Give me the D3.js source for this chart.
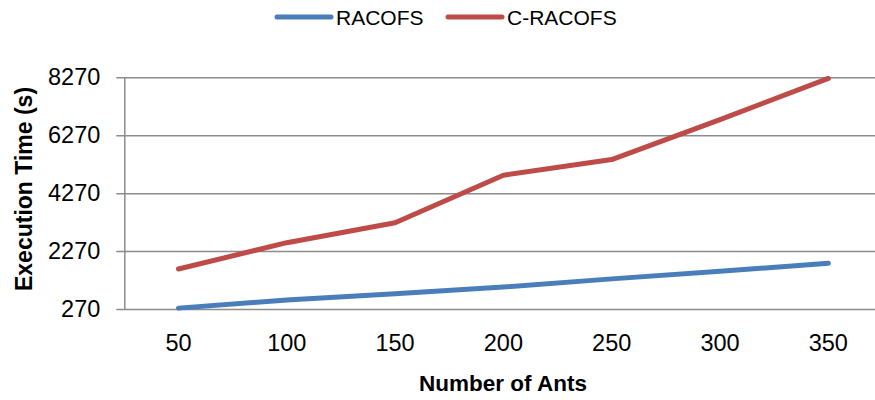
<!DOCTYPE html>
<html><head><meta charset="utf-8">
<script src="https://cdn.jsdelivr.net/npm/d3@7"></script>
<style>body{margin:0;background:#fff}svg{display:block}</style>
</head><body>
<svg id="c" width="875" height="400"></svg>
<script>
const categories = ["50","100","150","200","250","300","350"];
const racofs  = [300, 580, 800, 1030, 1310, 1570, 1850];
const cracofs = [1650, 2560, 3250, 4890, 5430, 6810, 8230];
const yTicks = [270, 2270, 4270, 6270, 8270];
const seriesNames = ["RACOFS", "C-RACOFS"];
const colors = ["#4A7EBB", "#BE4B48"];

(function () {
const svg = d3.select("#c");
const pLeft = 124.3, pRight = 882.5, pTop = 77.3, pBottom = 309;
const x = d3.scaleBand().domain(categories).range([pLeft, pRight]);
const y = d3.scaleLinear().domain([270, 8270]).range([pBottom, pTop]);
const font = "'Liberation Sans', Arial, sans-serif";

// gridlines + y axis
const ya = svg.append("g").attr("transform", `translate(${pLeft},0)`)
  .call(d3.axisLeft(y).tickValues(yTicks).tickFormat(d3.format("d")).tickSize(-(875 - pLeft)).tickSizeOuter(0).tickPadding(24));
ya.select(".domain").attr("stroke", "#8c8c8c").attr("stroke-width", 1.5);
ya.selectAll(".tick line").attr("stroke", "#8c8c8c").attr("stroke-width", 1.5).attr("x1", -8);
ya.selectAll(".tick text").attr("font-family", font).attr("font-size", 23.5).attr("fill", "#000");

// x axis
const xa = svg.append("g").attr("transform", `translate(0,${pBottom})`)
  .call(d3.axisBottom(x).tickSize(0).tickPadding(25));
xa.select(".domain").remove();
xa.selectAll(".tick text").attr("font-family", font).attr("font-size", 23.5).attr("fill", "#000");

// lines
const line = d3.line().x((d, i) => x(categories[i]) + x.bandwidth() / 2).y(d => y(d));
[racofs, cracofs].forEach((s, k) => {
  svg.append("path").datum(s).attr("d", line).attr("fill", "none")
    .attr("stroke", colors[k]).attr("stroke-width", 5).attr("stroke-linecap", "round").attr("stroke-linejoin", "round");
});

// axis titles
svg.append("text").attr("x", 503).attr("y", 391).attr("text-anchor", "middle")
  .attr("font-family", font).attr("font-weight", "bold").attr("font-size", 22.5).text("Number of Ants");
svg.append("text").attr("transform", "translate(32,189) rotate(-90)").attr("text-anchor", "middle")
  .attr("font-family", font).attr("font-weight", "bold").attr("font-size", 23).text("Execution Time (s)");

// legend
const lx = [277, 448];
seriesNames.forEach((n, k) => {
  svg.append("line").attr("x1", lx[k]).attr("x2", lx[k] + 54).attr("y1", 17).attr("y2", 17)
    .attr("stroke", colors[k]).attr("stroke-width", 5).attr("stroke-linecap", "round");
  svg.append("text").attr("x", lx[k] + 59).attr("y", 25).attr("font-family", font)
    .attr("font-size", 21).text(n);
});
})();
</script>
</body></html>
